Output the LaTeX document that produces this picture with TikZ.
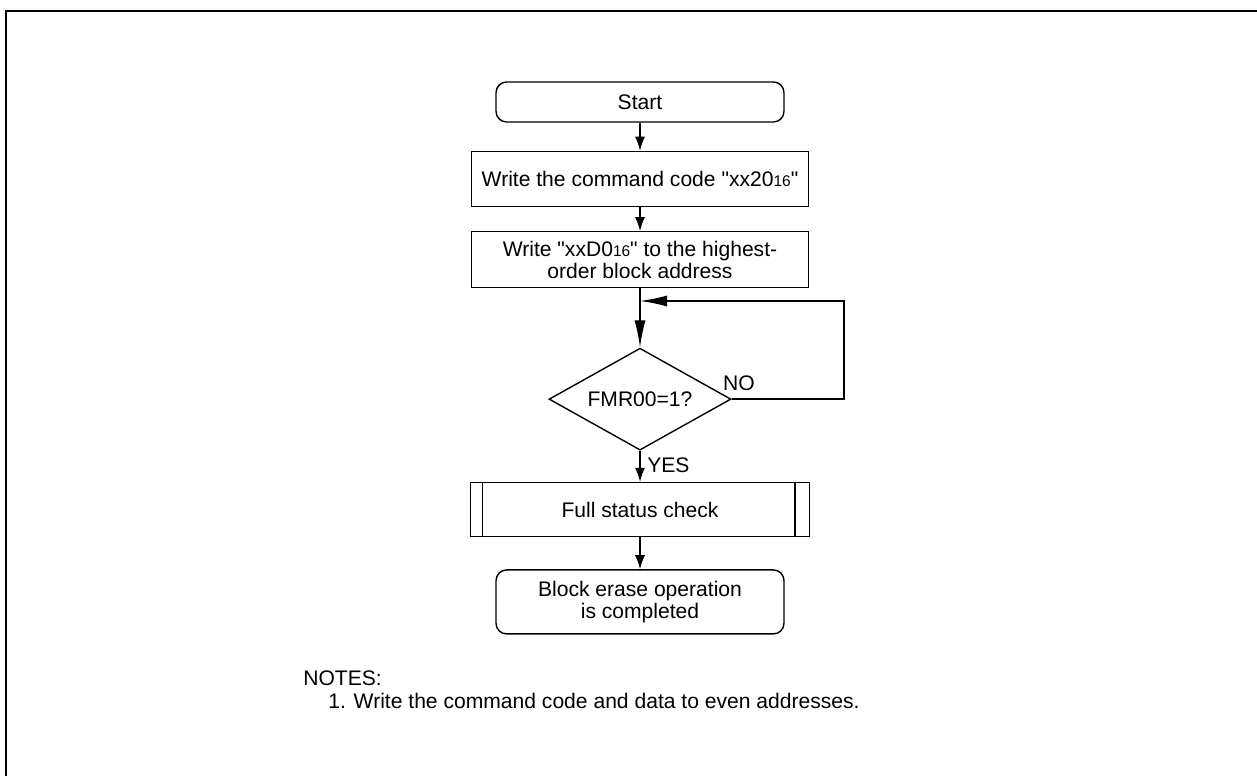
\documentclass[tikz,border=0pt]{standalone}
\usepackage{fontspec}
\setmainfont{Liberation Sans}[Ligatures=TeXOff]
\usetikzlibrary{arrows.meta,positioning,shapes.geometric,calc}

\newcommand{\hexsub}[1]{{\fontsize{8.8}{8.8}\selectfont #1}}
\newcommand{\dq}{\symbol{34}}

\begin{document}
\begin{tikzpicture}[
  x=0.02cm, y=-0.02cm,
  font=\fontsize{12}{12.8}\selectfont,
  >=Latex,
  node distance=5mm,
  terminal/.style={draw, rounded corners=6pt, align=center, minimum width=5.76cm, line width=0.8pt},
  procbox/.style={draw, align=center, minimum width=6.74cm, line width=0.8pt},
  decision/.style={draw, diamond, aspect=1.78, inner sep=0pt, minimum width=3.64cm, minimum height=2.04cm, line width=0.8pt},
  lbl/.style={inner sep=0pt, anchor=base west},
  arr/.style={->, line width=0.8pt, >={Latex[length=0.28cm, width=0.2cm]}},
  arrlong/.style={->, line width=0.8pt, >={Latex[length=0.54cm, width=0.22cm]}},
  frame/.style={line width=1.2pt}
]
  \useasboundingbox (0,0) rectangle (1257,776);
  \clip (0,0) rectangle (1257,776);
  \draw[frame] (6,11) rectangle (1290,800);

  \node[terminal, minimum height=0.8cm] (start) at (640,102) {Start};
  \node[procbox, minimum height=1.1cm, below=0.56cm of start] (cmd) {Write the command code \dq xx20\hexsub{16}\dq};
  \node[procbox, minimum height=1.12cm, below=0.48cm of cmd] (blk) {Write \dq xxD0\hexsub{16}\dq{} to the highest-\\order block address};
  \node[decision, below=1.18cm of blk] (chk) {FMR00=1?};
  \node[procbox, minimum width=6.78cm, minimum height=1.08cm, below=0.62cm of chk] (fsc) {Full status check};
  \node[terminal, minimum height=1.28cm, below=0.64cm of fsc] (done) {Block erase operation\\is completed};
  \draw[line width=0.8pt] ([xshift=0.25cm]fsc.north west) -- ([xshift=0.25cm]fsc.south west);
  \draw[line width=0.8pt] ([xshift=-0.3cm]fsc.north east) -- ([xshift=-0.3cm]fsc.south east);

  \coordinate (loop) at (844,301);
  \node[lbl, anchor=south west] (no) at ([xshift=-0.18cm, yshift=0.16cm]chk.east) {NO};
  \node[lbl, anchor=south west] (yes) at ([xshift=0.14cm, yshift=-0.44cm]chk.south) {YES};

  \node[lbl] (notes) at (303,685) {NOTES:};
  \node[lbl] (note1) at (328,708) {1. Write the command code and data to even addresses.};

  \draw[arr] (start) -- (cmd);
  \draw[arr] (cmd) -- (blk);
  \draw[arrlong] (blk) -- (chk);
  \draw[arrlong] (chk.east) -| (loop) -- (loop -| chk.north);
  \draw[arr] (chk) -- (fsc);
  \draw[arr] (fsc) -- (done);
\end{tikzpicture}
\end{document}
